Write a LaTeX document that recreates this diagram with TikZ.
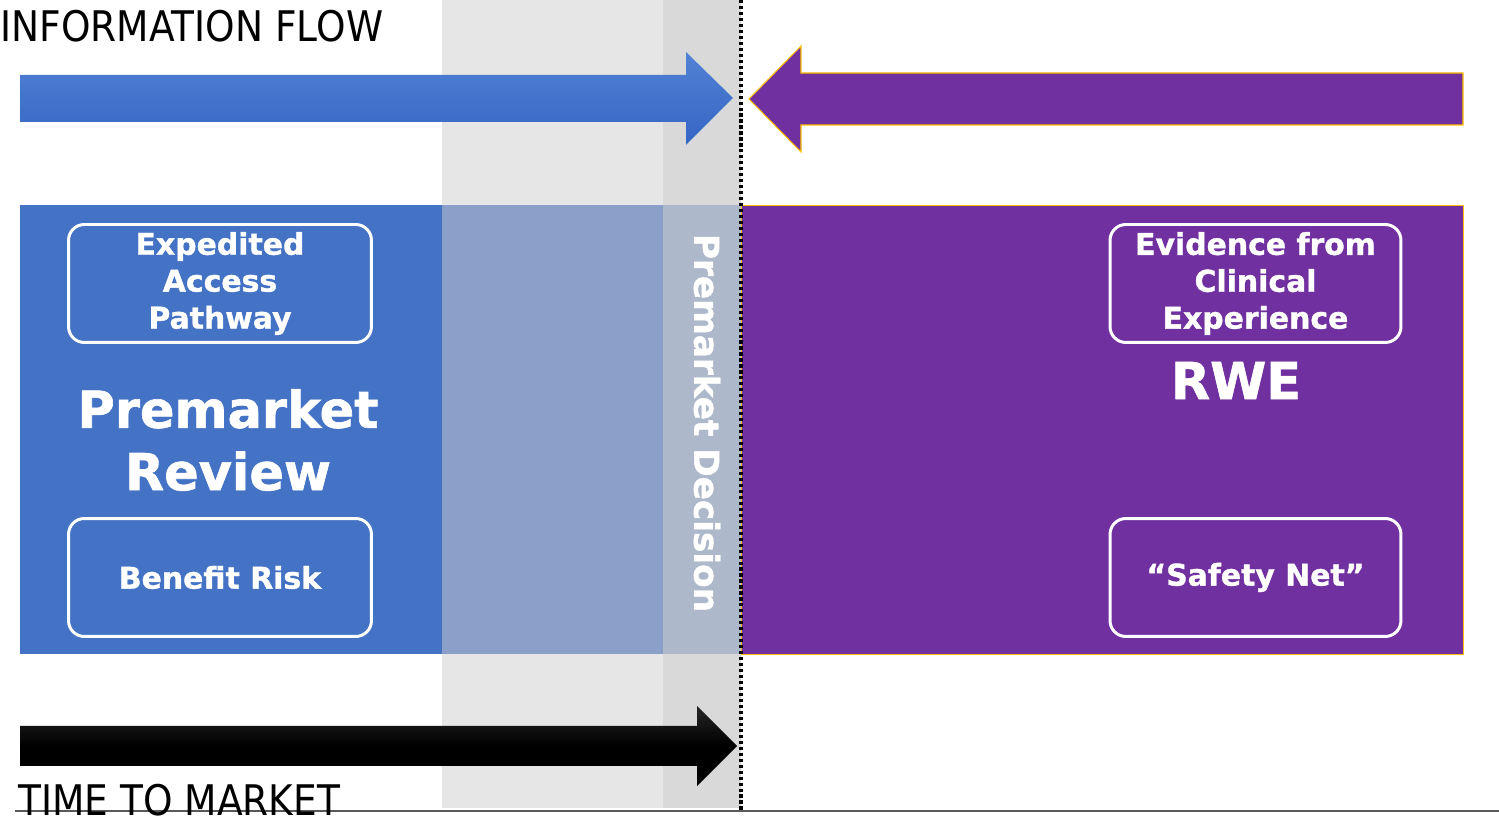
\documentclass[tikz,border=0pt]{standalone}
\usepackage{fontspec}
\setmainfont{DejaVu Sans}[BoldFeatures={FakeBold=1.2}]
\newfontfamily\narrowfont{DejaVu Sans}[FakeStretch=0.89]
\usepackage{tikz}
\usetikzlibrary{positioning}

\definecolor{pmBlue}{HTML}{4472C4}
\definecolor{pmBlueTop}{HTML}{5282D3}
\definecolor{pmBlueBot}{HTML}{3366C6}
\definecolor{rwPurple}{HTML}{7030A0}
\definecolor{rwGold}{HTML}{FFC000}
\definecolor{bandLight}{HTML}{E6E6E6}
\definecolor{bandDark}{HTML}{D9D9D9}
\definecolor{veilLight}{HTML}{8BA0C8}
\definecolor{veilDark}{HTML}{ADB9CA}

\begin{document}
\begin{tikzpicture}[
x = 0.02cm, y = -0.02cm,
   BOX/.style = {draw=white, line width=1.7pt, rounded corners=9pt,
                 minimum height=2.36cm, align=center, text=white,
                 inner sep=0pt,
                 font=\bfseries\fontsize{17}{21}\selectfont},
   BIG/.style = {text=white, align=center, inner sep=0pt,
                 font=\bfseries\fontsize{29}{35.5}\selectfont},
   LBL/.style = {inner sep=0pt, anchor=base west,
                 font=\narrowfont\fontsize{24}{28}\selectfont},
   DOT/.style = {line width=2pt, dash pattern=on 1.8pt off 1.6pt}
                        ]
\useasboundingbox (0,0) rectangle (1499,820);
% grey decision bands
\fill[bandLight] (442,0) rectangle (663,808);
\fill[bandDark]  (663,0) rectangle (741,808);
% left and right panels
\fill[pmBlue] (20,205) rectangle (442,654);
\filldraw[fill=rwPurple, draw=rwGold, line width=0.4pt] (741,205) rectangle (1463,654);
\fill[veilLight] (442,205) rectangle (663,654);
\fill[veilDark]  (663,205) rectangle (741,654);
% information flow arrows
\shade[top color=pmBlueTop, bottom color=pmBlueBot]
      (20,75) -- (686,75) -- (686,52) -- (733,98) -- (686,145) -- (686,122) -- (20,122) -- cycle;
\filldraw[fill=rwPurple, draw=rwGold, line width=0.6pt]
      (1463,73) -- (801,73) -- (801,46) -- (749,99) -- (801,152) -- (801,125) -- (1463,125) -- cycle;
% time to market arrow
\shade[top color=black!85, bottom color=black, middle color=black]
      (20,726) -- (697,726) -- (697,706) -- (737,746) -- (697,786) -- (697,766) -- (20,766) -- cycle;
% decision line and base line
\coordinate (dTop) at (741,0);
\coordinate (dBot) at (741,810);
\draw[DOT] (dTop) -- (dBot);
\coordinate (bL) at (15,811);
\coordinate (bR) at (1499,811);
\draw[black!65, line width=0.8pt] (bL) -- (bR);
% titles
\node[LBL] (infoLbl) at (0,42) {INFORMATION FLOW};
\node[LBL] (timeLbl) at (18,816) {TIME TO MARKET};
% left panel
\node[BOX, minimum width=6.06cm] (eap)     at (220,283.5) {Expedited\\Access\\Pathway};
\node[BIG]                      (review)  at (228,440)   {Premarket\\Review};
\node[BOX, minimum width=6.06cm] (benefit) at (220,577.5) {Benefit Risk};
% right panel
\node[BOX, minimum width=5.82cm] (evidence) at (1255.5,283.5) {Evidence from\\Clinical\\Experience};
\node[BIG]                       (rwe)      at (1236,380.5)   {RWE};
\node[BOX, minimum width=5.82cm] (safety)   at (1255.5,577.5) {“Safety Net”};
% decision label
\node[BIG, rotate=-90, font=\bfseries\fontsize{19.5}{22}\selectfont] (decision) at (707,423) {Premarket Decision};
\end{tikzpicture}
\end{document}
